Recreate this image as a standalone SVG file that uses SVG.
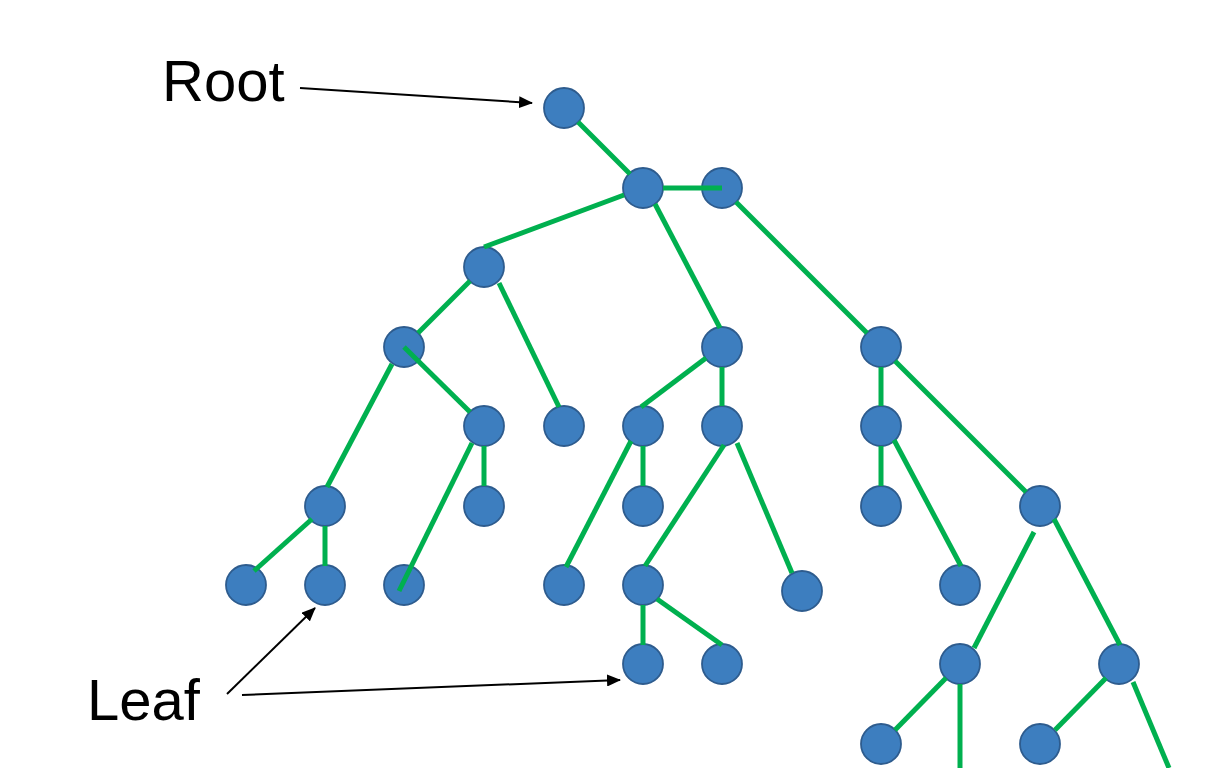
<svg xmlns="http://www.w3.org/2000/svg" width="1224" height="768" viewBox="0 0 1224 768">
<style>
.n{fill:#3D7EBF;stroke:#2E5C8E;stroke-width:1.8}
.e{stroke:#00B04F;stroke-width:5;fill:none;stroke-linecap:butt}
.a{stroke:#000;stroke-width:2;fill:none}
.t{font-family:"Liberation Sans",Arial,sans-serif;font-size:58px;fill:#000}
</style>
<defs>
<marker id="ah" viewBox="0 0 14 12" refX="13" refY="6" markerWidth="14" markerHeight="12" markerUnits="userSpaceOnUse" orient="auto">
<path d="M0,0 L14,6 L0,12 z" fill="#000"/>
</marker>
</defs>
<rect width="1224" height="768" fill="#fff"/>
<g id="nodes">
<circle id="root" class="n" cx="564" cy="108" r="20"/>
<circle id="nA" class="n" cx="643" cy="188" r="20"/>
<circle id="nB" class="n" cx="722" cy="188" r="20"/>
<circle id="nC" class="n" cx="484" cy="267" r="20"/>
<circle id="nD" class="n" cx="404" cy="347" r="20"/>
<circle id="nE" class="n" cx="722" cy="347" r="20"/>
<circle id="nF" class="n" cx="881" cy="347" r="20"/>
<circle id="nG" class="n" cx="484" cy="426" r="20"/>
<circle id="nH" class="n" cx="564" cy="426" r="20"/>
<circle id="nI" class="n" cx="643" cy="426" r="20"/>
<circle id="nJ" class="n" cx="722" cy="426" r="20"/>
<circle id="nK" class="n" cx="881" cy="426" r="20"/>
<circle id="nL" class="n" cx="325" cy="506" r="20"/>
<circle id="nM" class="n" cx="484" cy="506" r="20"/>
<circle id="nN" class="n" cx="643" cy="506" r="20"/>
<circle id="nO" class="n" cx="881" cy="506" r="20"/>
<circle id="nP" class="n" cx="1040" cy="506" r="20"/>
<circle id="nQ" class="n" cx="246" cy="585" r="20"/>
<circle id="nR" class="n" cx="325" cy="585" r="20"/>
<circle id="nS" class="n" cx="404" cy="585" r="20"/>
<circle id="nT" class="n" cx="564" cy="585" r="20"/>
<circle id="nU" class="n" cx="643" cy="585" r="20"/>
<circle id="nV" class="n" cx="802" cy="591" r="20"/>
<circle id="nW" class="n" cx="960" cy="585" r="20"/>
<circle id="nX" class="n" cx="643" cy="664" r="20"/>
<circle id="nY" class="n" cx="722" cy="664" r="20"/>
<circle id="nZ" class="n" cx="960" cy="664" r="20"/>
<circle id="nAA" class="n" cx="1119" cy="664" r="20"/>
<circle id="nAB" class="n" cx="881" cy="744" r="20"/>
<circle id="nAC" class="n" cx="1040" cy="744" r="20"/>
</g>
<g id="connectors">
<line class="e" x1="578" y1="122" x2="630" y2="174"/>
<line class="e" x1="663" y1="188" x2="722" y2="188"/>
<line class="e" x1="624" y1="195" x2="484" y2="247"/>
<line class="e" x1="655" y1="204" x2="720" y2="328"/>
<line class="e" x1="736" y1="202" x2="867" y2="333"/>
<line class="e" x1="470" y1="281" x2="418" y2="333"/>
<line class="e" x1="499" y1="283" x2="559" y2="407"/>
<line class="e" x1="404" y1="347" x2="470" y2="412"/>
<line class="e" x1="392" y1="364" x2="327" y2="487"/>
<line class="e" x1="706" y1="358" x2="641" y2="407"/>
<line class="e" x1="722" y1="367" x2="722" y2="406"/>
<line class="e" x1="881" y1="367" x2="881" y2="406"/>
<line class="e" x1="895" y1="361" x2="1026" y2="492"/>
<line class="e" x1="484" y1="446" x2="484" y2="486"/>
<line class="e" x1="472" y1="443" x2="399" y2="591"/>
<line class="e" x1="643" y1="446" x2="643" y2="486"/>
<line class="e" x1="631" y1="441" x2="566" y2="567"/>
<line class="e" x1="724" y1="445" x2="645" y2="566"/>
<line class="e" x1="737" y1="443" x2="792" y2="573"/>
<line class="e" x1="881" y1="446" x2="881" y2="486"/>
<line class="e" x1="894" y1="440" x2="961" y2="566"/>
<line class="e" x1="312" y1="519" x2="254" y2="571"/>
<line class="e" x1="325" y1="526" x2="325" y2="566"/>
<line class="e" x1="643" y1="605" x2="643" y2="645"/>
<line class="e" x1="657" y1="599" x2="722" y2="645"/>
<line class="e" x1="1034" y1="532" x2="974" y2="648"/>
<line class="e" x1="1054" y1="519" x2="1120" y2="645"/>
<line class="e" x1="946" y1="678" x2="895" y2="730"/>
<line class="e" x1="960" y1="684" x2="960" y2="768"/>
<line class="e" x1="1106" y1="678" x2="1055" y2="730"/>
<line class="e" x1="1133" y1="682" x2="1169" y2="768"/>
</g>
<g id="annotations">
<text class="t" x="162" y="101">Root</text>
<text class="t" x="87" y="720">Leaf</text>
<line class="a" x1="300" y1="88" x2="532" y2="103" marker-end="url(#ah)"/>
<line class="a" x1="227" y1="694" x2="315" y2="608" marker-end="url(#ah)"/>
<line class="a" x1="242" y1="695" x2="620" y2="680" marker-end="url(#ah)"/>
</g>
</svg>
